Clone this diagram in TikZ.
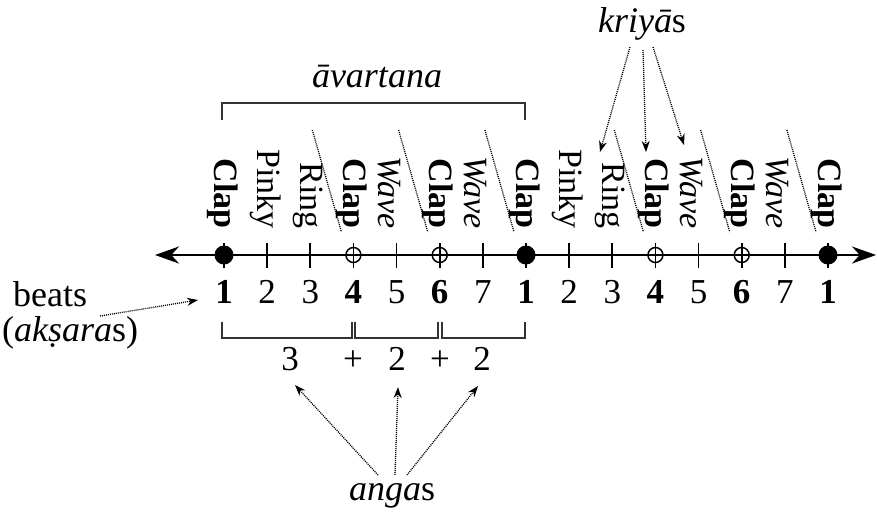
\documentclass[tikz,border=0pt]{standalone}
\usepackage{fontspec}
\setmainfont{Liberation Serif}
\usetikzlibrary{arrows.meta}
\begin{document}
\begin{tikzpicture}[x=1pt,y=-1pt,
  lbl/.style={font=\fontsize{36}{42}\selectfont, inner sep=0pt},
  rlab/.style={font=\fontsize{34}{40}\selectfont, inner sep=0pt, rotate=-90, anchor=base east},
  num/.style={font=\fontsize{35}{42}\selectfont, inner sep=0pt, anchor=base},
  tickline/.style={line width=1.8pt},
  brk/.style={line width=1.6pt, draw=black!80},
  dotline/.style={line width=1.3pt, dash pattern=on 1pt off 1pt},
  darr/.style={dotline, -{Stealth[length=11pt,width=8pt]}},
]
\useasboundingbox (0,0) rectangle (877,512);

% tick positions
\foreach \i in {0,...,14} {
  \coordinate (t\i) at ({224+43.143*\i},255);
}

% axis
\coordinate (axL) at (155,255);
\coordinate (axR) at (876,255);
\draw[line width=2.5pt, {Stealth[length=24pt,width=17pt]}-{Stealth[length=24pt,width=17pt]}] (axL) -- (axR);

% ticks
\foreach \i in {0,...,14} {
  \draw[tickline] ({224+43.143*\i},243) -- ({224+43.143*\i},268);
}
% filled circles
\foreach \i in {0,7,14} { \fill (t\i) circle (9.5pt); }
% open circles
\foreach \i in {3,5,10,12} { \draw[line width=1.5pt] (t\i) circle (7.5pt); }

% beat numbers
\foreach \i/\t in {0/\textbf{1},1/2,2/3,3/\textbf{4},4/5,5/\textbf{6},6/7,7/\textbf{1},8/2,9/3,10/\textbf{4},11/5,12/\textbf{6},13/7,14/\textbf{1}} {
  \node[num] (n\i) at ({224+43.143*\i},303) {\t};
}

% kriya labels
\foreach \i/\t/\d in {0/\textbf{Clap}/10,1/Pinky/10,2/Ring/10,3/\textbf{Clap}/10,4/\textit{Wave}/18,5/\textbf{Clap}/10,6/\textit{Wave}/18,7/\textbf{Clap}/10,8/Pinky/10,9/Ring/10,10/\textbf{Clap}/10,11/\textit{Wave}/18,12/\textbf{Clap}/10,13/\textit{Wave}/18,14/\textbf{Clap}/10} {
  \node[rlab] (k\i) at ({224+43.143*\i-\d},229) {\t};
}

% dotted separators
\foreach \i in {2,4,6,9,11,13} {
  \draw[dotline] ({224+43.143*\i+2},130) -- ({224+43.143*(\i+1)-12},232);
}

% avartana bracket
\draw[brk] (222,120) -- (222,103) -- (525,103) -- (525,120);
\node[lbl, anchor=base] (av) at (377,87) {\itshape āvartana};

% anga brackets
\draw[brk] (222,322) -- (222,338) -- (352,338) -- (352,322);
\draw[brk] (355,322) -- (355,338) -- (438,338) -- (438,322);
\draw[brk] (442,322) -- (442,338) -- (525,338) -- (525,322);

\node[num] (s1) at (290,370) {3};
\node[num] (p1) at (353,370) {+};
\node[num] (s2) at (397,370) {2};
\node[num] (p2) at (440,370) {+};
\node[num] (s3) at (482,370) {2};

% angas
\node[lbl, anchor=base] (ang) at (392,500) {\textit{anga}s};
\coordinate (a1) at (378,475);
\coordinate (a2) at (395,475);
\coordinate (a3) at (407,475);
\coordinate (e1) at (295,385);
\coordinate (e2) at (398,387);
\coordinate (e3) at (478,386);
\draw[darr] (a1) -- (e1);
\draw[darr] (a2) -- (e2);
\draw[darr] (a3) -- (e3);

% kriyas
\node[lbl, anchor=base] (kr) at (642,32) {\textit{kriyā}s};
\coordinate (kA) at (630,47);
\coordinate (kB) at (643,50);
\coordinate (kC) at (653,47);
\coordinate (kEA) at (600,152);
\coordinate (kEB) at (646,152);
\coordinate (kEC) at (684,145);
\draw[darr] (kA) -- (kEA);
\draw[darr] (kB) -- (kEB);
\draw[darr] (kC) -- (kEC);

% beats
\node[lbl, anchor=base west] (bt) at (13,306) {beats};
\node[lbl, anchor=base west] (ak) at (2,341) {(\textit{akṣara}s)};
\coordinate (bA) at (100,316);
\coordinate (bE) at (198,300);
\draw[darr] (bA) -- (bE);
\end{tikzpicture}
\end{document}
